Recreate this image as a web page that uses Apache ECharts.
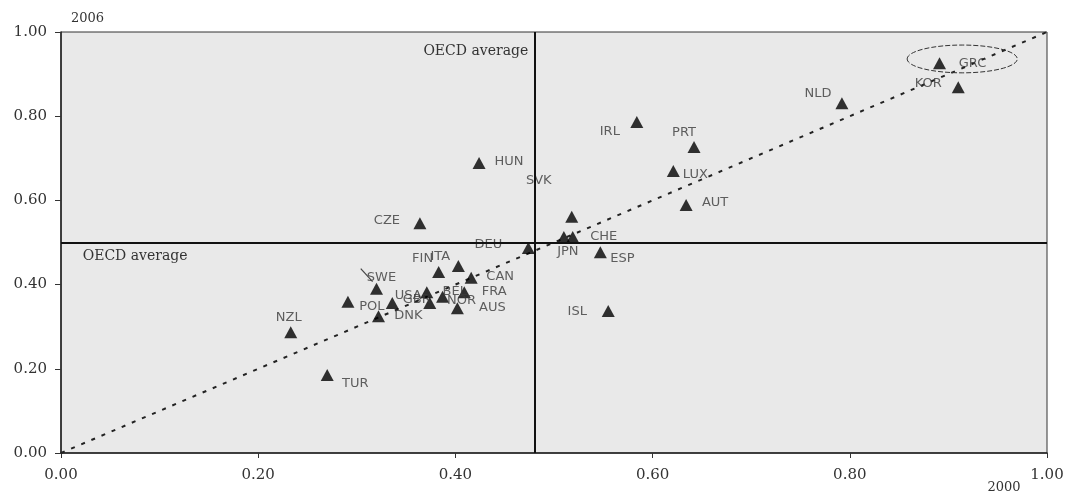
<!DOCTYPE html>
<html>
<head>
<meta charset="utf-8">
<script src="https://cdn.jsdelivr.net/npm/echarts@6/dist/echarts.min.js"></script>
<style>
  html, body { margin: 0; padding: 0; background: #ffffff; }
  #chart { width: 1068px; height: 493px; }
</style>
</head>
<body>
<div id="chart"></div>
<script>
// ---- data ----
const countries = ['GRC','KOR','NLD','IRL','PRT','LUX','AUT','HUN','SVK','CZE','JPN','CHE','DEU','ESP','ISL','TUR','NZL','POL','SWE','DNK','USA','GBR','BEL','NOR','AUS','FRA','CAN','FIN','ITA'];
const x2000 = [0.891,0.910,0.792,0.584,0.642,0.621,0.634,0.424,0.518,0.364,0.510,0.519,0.474,0.547,0.555,0.270,0.233,0.291,0.320,0.322,0.336,0.374,0.371,0.387,0.402,0.409,0.416,0.383,0.403];
const y2006 = [0.926,0.869,0.831,0.786,0.727,0.670,0.589,0.689,0.561,0.546,0.513,0.513,0.487,0.477,0.337,0.185,0.287,0.359,0.390,0.325,0.356,0.356,0.382,0.371,0.344,0.382,0.416,0.430,0.444];
const oecdAvgX = 0.479;
const oecdAvgY = 0.504;
const diagonal = [[0, 0], [1, 1]];

// ---- layout (label offsets in px from marker centre, not data) ----
const labelOffsets = [[33,0],[-30,-4],[-24,-10],[-27,10],[-10,-14],[22,4],[29,-2],[30,-1],[-33,-36],[-33,-3],[4,15],[31,0],[-40,-3],[22,6],[-31,1],[28,9],[-2,-15],[24,5],[5,-11],[30,-1],[16,-7],[-13,-3],[28,-1],[19,4],[35,-1],[30,-1],[29,-1],[-16,-13],[-18,-9]];

const chart = echarts.init(document.getElementById('chart'));
const sans = 'DejaVu Sans';
const serif = 'DejaVu Serif';
const symW = 13, symH = 12;

const points = countries.map((c, i) => ({
  name: c,
  value: [x2000[i], y2006[i]],
  label: {
    position: [symW / 2 + labelOffsets[i][0], symH / 2 + labelOffsets[i][1]],
    align: 'center', verticalAlign: 'middle'
  }
}));

const option = {
  backgroundColor: '#ffffff',
  animation: false,
  grid: {
    left: 61, right: 21, top: 32, bottom: 40,
    show: true, backgroundColor: '#e9e9e9', borderColor: '#333', borderWidth: 1
  },
  xAxis: {
    type: 'value', min: 0, max: 1, interval: 0.2,
    axisLine: { show: true, onZero: false, lineStyle: { color: '#222', width: 1.5 } },
    axisTick: { show: true, inside: false, length: 5, lineStyle: { color: '#333' } },
    splitLine: { show: false },
    axisLabel: { margin: 15, fontFamily: serif, fontSize: 15, color: '#333',
      formatter: v => v.toFixed(2) }
  },
  yAxis: {
    type: 'value', min: 0, max: 1, interval: 0.2,
    name: '2006', nameLocation: 'end', nameGap: 7,
    nameTextStyle: { fontFamily: serif, fontSize: 13, color: '#333', align: 'left', padding: [0, 0, 0, 10] },
    axisLine: { show: true, onZero: false, lineStyle: { color: '#222', width: 1.5 } },
    axisTick: { show: true, inside: false, length: 6, lineStyle: { color: '#333' } },
    splitLine: { show: false },
    axisLabel: { margin: 14, fontFamily: serif, fontSize: 15, color: '#333',
      formatter: v => v.toFixed(2) }
  },
  series: [
    {
      type: 'line',
      data: diagonal,
      symbol: 'none',
      silent: true,
      lineStyle: { color: '#222', width: 2, type: [4, 7] },
      z: 1
    },
    {
      type: 'scatter',
      data: points,
      symbol: 'triangle',
      symbolSize: [symW, symH],
      itemStyle: { color: '#000' },
      label: {
        show: true, formatter: p => p.name,
        fontFamily: sans, fontSize: 13, color: '#3a3a3a'
      },
      labelLayout: { hideOverlap: false },
      markLine: {
        silent: true, symbol: 'none',
        lineStyle: { color: '#111', width: 2, type: 'solid' },
        label: { show: false },
        data: [{ xAxis: oecdAvgX }, { yAxis: oecdAvgY }]
      },
      z: 3
    }
  ]
};
chart.setOption(option);

// annotations positioned from data coordinates
const px = (x, y) => chart.convertToPixel({ gridIndex: 0 }, [x, y]);
const ellC = px(0.914, 0.936);
const ellR = px(0.914 + 0.0558, 0.936 - 0.033);
const sw1 = px(0.304, 0.438), sw2 = px(0.316, 0.407);
const vTop = px(oecdAvgX, 0.953);
const hLeft = px(0.022, oecdAvgY);
chart.setOption({
  graphic: [
    { type: 'ellipse', shape: { cx: ellC[0], cy: ellC[1], rx: ellR[0] - ellC[0], ry: ellR[1] - ellC[1] },
      style: { fill: 'none', stroke: '#333', lineWidth: 1, lineDash: [5, 2] }, z: 10, silent: true },
    { type: 'line', shape: { x1: sw1[0], y1: sw1[1], x2: sw2[0], y2: sw2[1] },
      style: { stroke: '#444', lineWidth: 1.2 }, z: 10, silent: true },
    { type: 'text', x: vTop[0] - 5, y: vTop[1],
      style: { text: 'OECD average', fontFamily: serif, fontSize: 14, fill: '#333', align: 'right', verticalAlign: 'middle' }, z: 10 },
    { type: 'text', x: hLeft[0], y: hLeft[1] + 16,
      style: { text: 'OECD average', fontFamily: serif, fontSize: 14, fill: '#333', align: 'left', verticalAlign: 'middle' }, z: 10 },
    { type: 'text', x: 1004, y: 488,
      style: { text: '2000', fontFamily: serif, fontSize: 13, fill: '#333', align: 'center', verticalAlign: 'middle' }, z: 10 }
  ]
});
</script>
</body>
</html>
